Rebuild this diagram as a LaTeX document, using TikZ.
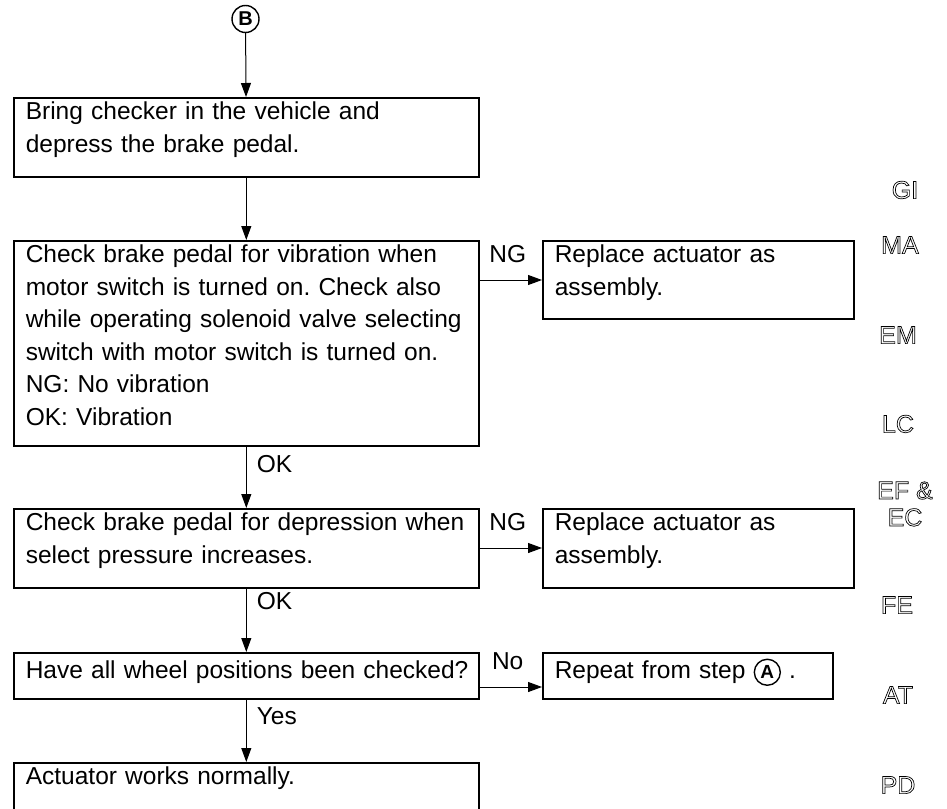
\documentclass[tikz,border=0pt]{standalone}
\usepackage{fontspec}
\setmainfont{Liberation Sans}
\usetikzlibrary{arrows.meta}
\newcommand{\bodyfont}{\fontsize{24.5}{32.5}\selectfont\frenchspacing}
\newcommand{\tabfont}{\fontsize{25}{27}\selectfont}
\newcommand{\outlined}[1]{\special{pdf:literal direct q 1 Tr 0.7 w}#1\special{pdf:literal direct Q}}
\newcommand{\stepmark}[1]{\tikz[baseline=(m.base)]\node[circle, draw, line width=1.4pt, inner sep=0pt, minimum size=26pt, font=\fontsize{19}{19}\selectfont\bfseries] (m) {#1};}

\begin{document}
\begin{tikzpicture}[x=1pt, y=-1pt,
    box/.style={draw, line width=1.6pt, anchor=north west, inner xsep=12pt, inner ysep=5pt, align=left, font=\bodyfont, text height=17pt},
    lab/.style={font=\bodyfont, inner sep=2pt},
    arr/.style={line width=1pt, -{Triangle[length=14pt,width=10pt]}},
    tab/.style={font=\tabfont, align=center, inner sep=1pt}]
    \useasboundingbox (0,0) rectangle (947,808);
    \node[circle, draw, line width=1.4pt, minimum size=27pt, inner sep=0pt, font=\fontsize{20}{20}\selectfont\bfseries] (ptB) at (245.5,19) {B};
    \node[box, text width=441pt, text depth=52pt] (chk1) at (13,97) {Bring checker in the vehicle and\\depress the brake pedal.};
    \node[box, text width=441pt, text depth=178pt] (chk2) at (13,240) {Check brake pedal for vibration when\\motor switch is turned on. Check also\\\mbox{while operating solenoid valve selecting}\\switch with motor switch is turned on.\\NG: No vibration\\OK: Vibration};
    \node[box, text width=441pt, text depth=52pt] (chk3) at (13,508) {Check brake pedal for depression when\\select pressure increases.};
    \node[box, text width=441pt, text height=21pt, text depth=15pt] (chk4) at (13,652) {\mbox{Have all wheel positions been checked?}};
    \node[box, text width=441pt, text depth=60pt] (chk5) at (13,762) {Actuator works normally.};
    \node[box, text width=287pt, text depth=51pt] (rep1) at (542,240) {Replace actuator as\\assembly.};
    \node[box, text width=287pt, text depth=52pt] (rep2) at (542,508) {Replace actuator as\\assembly.};
    \node[box, text width=266pt, text height=21pt, text depth=15pt] (rep3) at (542,652) {Repeat from step \stepmark{A} .};
    \draw[arr] (ptB) -- (chk1);
    \draw[arr] (chk1) -- (chk2);
    \draw[arr] (chk2) -- node[lab, right=8pt, pos=0.29] {OK} (chk3);
    \draw[arr] (chk3) -- node[lab, right=8pt, pos=0.2] {OK} (chk4);
    \draw[arr] (chk4) -- node[lab, right=8pt, pos=0.27] {Yes} (chk5);
    \draw[arr] ([yshift=-40pt]chk2.north east) -- node[lab, above=15pt, pos=0.45] {NG} ([yshift=-40pt]rep1.north west);
    \draw[arr] ([yshift=-40pt]chk3.north east) -- node[lab, above=15pt, pos=0.45] {NG} ([yshift=-40pt]rep2.north west);
    \draw[arr] ([yshift=-35pt]chk4.north east) -- node[lab, above=15pt, pos=0.45] {No} ([yshift=-35pt]rep3.north west);
    \foreach \t/\x/\y [count=\i] in {GI/905/190, MA/900/245, EM/898/335, LC/898/424, EF \&\\EC/905/504, FE/897/605, AT/898/695, PD/898/785}
        \node[tab] (tab\i) at (\x,\y) {\outlined{\t}};
\end{tikzpicture}
\end{document}
